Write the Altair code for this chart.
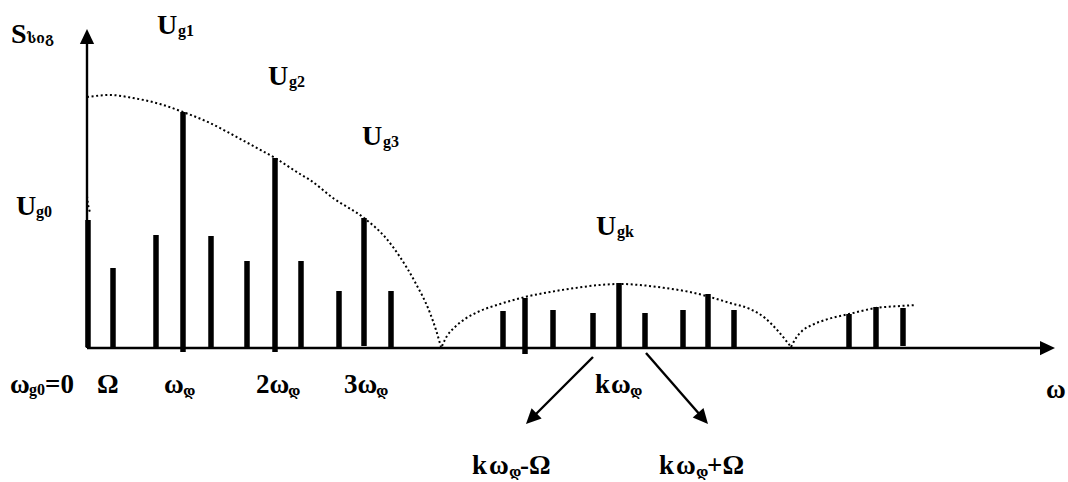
import altair as alt
import numpy as np
import pandas as pd

W, H = 1068, 482
BASE = 348  # screen row of the frequency axis; amplitudes are measured up from it

# ---- spectral lines: position along ω, amplitude, and where the stroke starts ----
line_pos = [88, 113, 156, 183, 211, 247, 275, 301, 339, 364, 391,
            503, 525, 553, 593, 619, 645, 683, 708, 734,
            849, 876, 903]
line_amp = [128, 80, 113, 236, 112, 87, 190, 87, 57, 130, 57,
            37, 50, 38, 35, 65, 35, 38, 54, 38,
            34, 41, 40]
line_low = [1, 0, 0, -4, 0, 0, -4, 0, 0, 2, 0,
            0, -6, 1, 0, 0, 0, 0, 0, 0,
            0, 0, 2]

# ---- dotted envelopes of the sin(x)/x spectrum ----
env0_x = [87, 88, 90]
env0_a = [152, 144, 136]
env1_x = [87, 110, 133, 160, 183, 210, 233, 255, 275, 300, 310, 333, 364,
          385, 400, 415, 430, 436, 441]
env1_a = [251, 253, 250, 244, 236, 225, 213, 201, 190, 174, 168, 150, 130,
          111, 91, 66, 35, 18, 1]
env2_x = [442, 447, 455, 465, 480, 500, 525, 550, 575, 600, 620, 640, 665,
          690, 710, 730, 750, 765, 778, 791]
env2_a = [2, 12, 21, 29, 37, 44, 51, 56, 60, 63, 64, 63, 60, 56, 51, 45,
          39, 30, 17, 1]
env3_x = [791, 796, 802, 812, 825, 849, 876, 900, 916]
env3_a = [1, 10, 17, 23, 28, 34, 40, 42, 43]

# ---- labels: text, left edge, baseline row, font size ----
BIG, MID, SUB, GEO = 28, 27, 16, 14
labels = [
    ("S", 11, 43, BIG), ("სიგ", 27, 43, GEO),
    ("U", 157, 34, BIG), ("g1", 178, 36, SUB),
    ("U", 268, 85, BIG), ("g2", 289, 87, SUB),
    ("U", 362, 145, BIG), ("g3", 383, 147, SUB),
    ("U", 16, 215, BIG), ("g0", 36, 217, SUB),
    ("U", 596, 235, BIG), ("gk", 617, 237, SUB),
    ("ω", 10, 393, MID), ("g0", 29, 395, SUB), ("=0", 45, 393, MID),
    ("Ω", 97, 393, MID),
    ("ω", 164, 393, MID), ("დ", 183, 396, GEO),
    ("2ω", 256, 393, MID), ("დ", 288, 396, GEO),
    ("3ω", 344, 393, MID), ("დ", 376, 396, GEO),
    ("k", 595, 393, MID), ("ω", 611, 393, MID), ("დ", 630, 396, GEO),
    ("k", 472, 474, MID), ("ω", 489, 474, MID), ("დ", 509, 477, GEO),
    ("-Ω", 520, 474, MID),
    ("k", 659, 474, MID), ("ω", 676, 474, MID), ("დ", 696, 477, GEO),
    ("+Ω", 707, 474, MID),
    ("ω", 1046, 398, MID),
]

# ---- arrows: start and tip (x, screen row) ----
arrows = [((87, 348), (87, 29)),        # amplitude axis
          ((87, 348), (1055, 348)),     # frequency axis
          ((593, 357), (526, 424)),     # kω − Ω
          ((646, 353), (708, 424))]     # kω + Ω
HEAD = 15  # arrowhead length

xs = alt.Scale(domain=[0, W], nice=False, zero=False)
ys = alt.Scale(domain=[BASE - H, BASE], nice=False, zero=False)
X = lambda f: alt.X(f, scale=xs, axis=None)
Y = lambda f: alt.Y(f, scale=ys, axis=None)

# spectral lines
bars = pd.DataFrame({"x": line_pos, "top": line_amp, "low": line_low})
bar_layer = alt.Chart(bars).mark_rule(color="black", strokeWidth=5.5, strokeCap="butt").encode(
    x=X("x:Q"), y=Y("low:Q"), y2="top:Q")

# envelopes
env_rows = []
for k, (ex, ea) in enumerate([(env0_x, env0_a), (env1_x, env1_a),
                              (env2_x, env2_a), (env3_x, env3_a)]):
    for xv, av in zip(ex, ea):
        env_rows.append({"lobe": k, "x": xv, "a": av})
env = pd.DataFrame(env_rows)
env_layer = alt.Chart(env).mark_line(color="black", strokeWidth=2, strokeDash=[2, 2.6],
                                     interpolate="monotone").encode(
    x=X("x:Q"), y=Y("a:Q"), detail="lobe:N", order="x:Q")

# arrow shafts and heads
shafts, heads = [], []
for (sx, sy), (tx, ty) in arrows:
    d = np.array([tx - sx, ty - sy], dtype=float)
    d /= np.hypot(*d)
    cx, cy = tx - d[0] * HEAD / 2, ty - d[1] * HEAD / 2
    ex, ey = tx - d[0] * HEAD * 0.8, ty - d[1] * HEAD * 0.8
    shafts.append({"x": sx, "a": BASE - sy, "x2": ex, "a2": BASE - ey})
    ang = np.degrees(np.arctan2(d[0], -d[1])) % 360
    heads.append({"x": cx, "a": BASE - cy, "angle": ang})
shaft_layer = alt.Chart(pd.DataFrame(shafts)).mark_rule(color="black", strokeWidth=2.4).encode(
    x=X("x:Q"), y=Y("a:Q"), x2="x2:Q", y2="a2:Q")
head_layer = alt.Chart(pd.DataFrame(heads)).mark_point(
    shape="M0,-1L0.95,1L-0.95,1Z", filled=True, size=HEAD * HEAD, color="black",
    opacity=1, strokeWidth=0).encode(
    x=X("x:Q"), y=Y("a:Q"), angle=alt.Angle("angle:Q", scale=None))

# labels
lab = pd.DataFrame([{"t": t, "x": x, "a": BASE - y, "s": s} for t, x, y, s in labels])
text_layer = alt.Chart(lab).mark_text(
    align="left", baseline="alphabetic", color="black", fontWeight="bold",
    font="Liberation Serif, DejaVu Serif, DejaVu Sans").encode(
    x=X("x:Q"), y=Y("a:Q"), text="t:N", size=alt.Size("s:Q", scale=None))

chart = alt.layer(env_layer, bar_layer, shaft_layer, head_layer, text_layer).properties(
    width=W, height=H, autosize=alt.AutoSizeParams(type="none"), padding=0,
    background="white").configure_view(stroke=None)

chart.save("out.html", embed_options={"renderer": "svg", "actions": False})
